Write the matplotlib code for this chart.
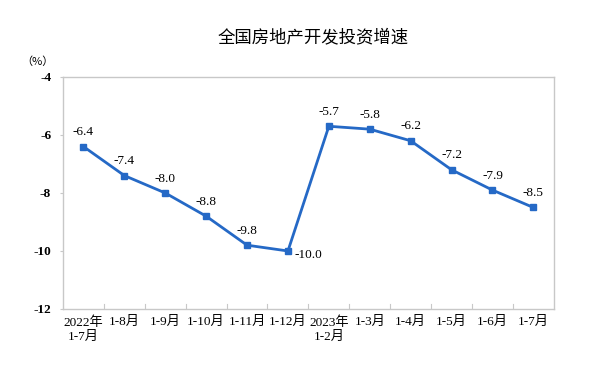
import matplotlib
matplotlib.use("Agg")
import matplotlib.pyplot as plt

categories = ["2022年\n1-7月", "1-8月", "1-9月", "1-10月", "1-11月", "1-12月",
              "2023年\n1-2月", "1-3月", "1-4月", "1-5月", "1-6月", "1-7月"]
values = [-6.4, -7.4, -8.0, -8.8, -9.8, -10.0, -5.7, -5.8, -6.2, -7.2, -7.9, -8.5]
yticks = [-12, -10, -8, -6, -4]
title = "全国房地产开发投资增速"
unit = "（%）"

fam = ["Liberation Serif", "Noto Sans CJK SC"]
plt.rcParams["font.family"] = fam

fig = plt.figure(figsize=(6, 3.81), dpi=100)
ax = fig.add_axes([0.105, 0.189, 0.818, 0.609])
x = list(range(len(values)))
color = "#2569C6"
ax.plot(x, values, color=color, lw=2, marker="s", ms=4.5, zorder=3)
ax.set_xlim(-0.5, len(values) - 0.5)
ax.set_ylim(-12, -4)
ax.set_yticks(yticks)
ax.set_yticklabels([str(v) for v in yticks], fontsize=9.5, fontweight="bold")
ax.tick_params(axis="y", length=2.5, width=0.8, color="#C8C8C8", pad=6)
ax.set_xticks(x)
ax.set_xticklabels(categories, fontsize=9.5, linespacing=1.25)
ax.tick_params(axis="x", length=0, pad=5)
for b in range(1, len(values)):
    ax.plot([b - 0.5, b - 0.5], [-12, -11.82], color="#C8C8C8", lw=0.8, zorder=1)
for s in ax.spines.values():
    s.set_color("#C8C8C8")
    s.set_linewidth(1)

for i, v in enumerate(values):
    if i == 5:
        ax.annotate(f"{v:.1f}", (i, v), xytext=(5, -3), textcoords="offset points",
                    ha="left", va="center", fontsize=9.5)
    else:
        ax.annotate(f"{v:.1f}", (i, v), xytext=(0, 6), textcoords="offset points",
                    ha="center", va="bottom", fontsize=9.5)

fig.text(0.522, 0.903, title, ha="center", va="center", fontsize=12.5,
         fontweight="medium", family=["Noto Sans CJK SC", "DejaVu Sans"])
fig.text(0.062, 0.838, unit, ha="center", va="center", fontsize=8,
         family=["Noto Sans CJK SC", "DejaVu Sans"])
fig.savefig("out.png", dpi=100, facecolor="white")
